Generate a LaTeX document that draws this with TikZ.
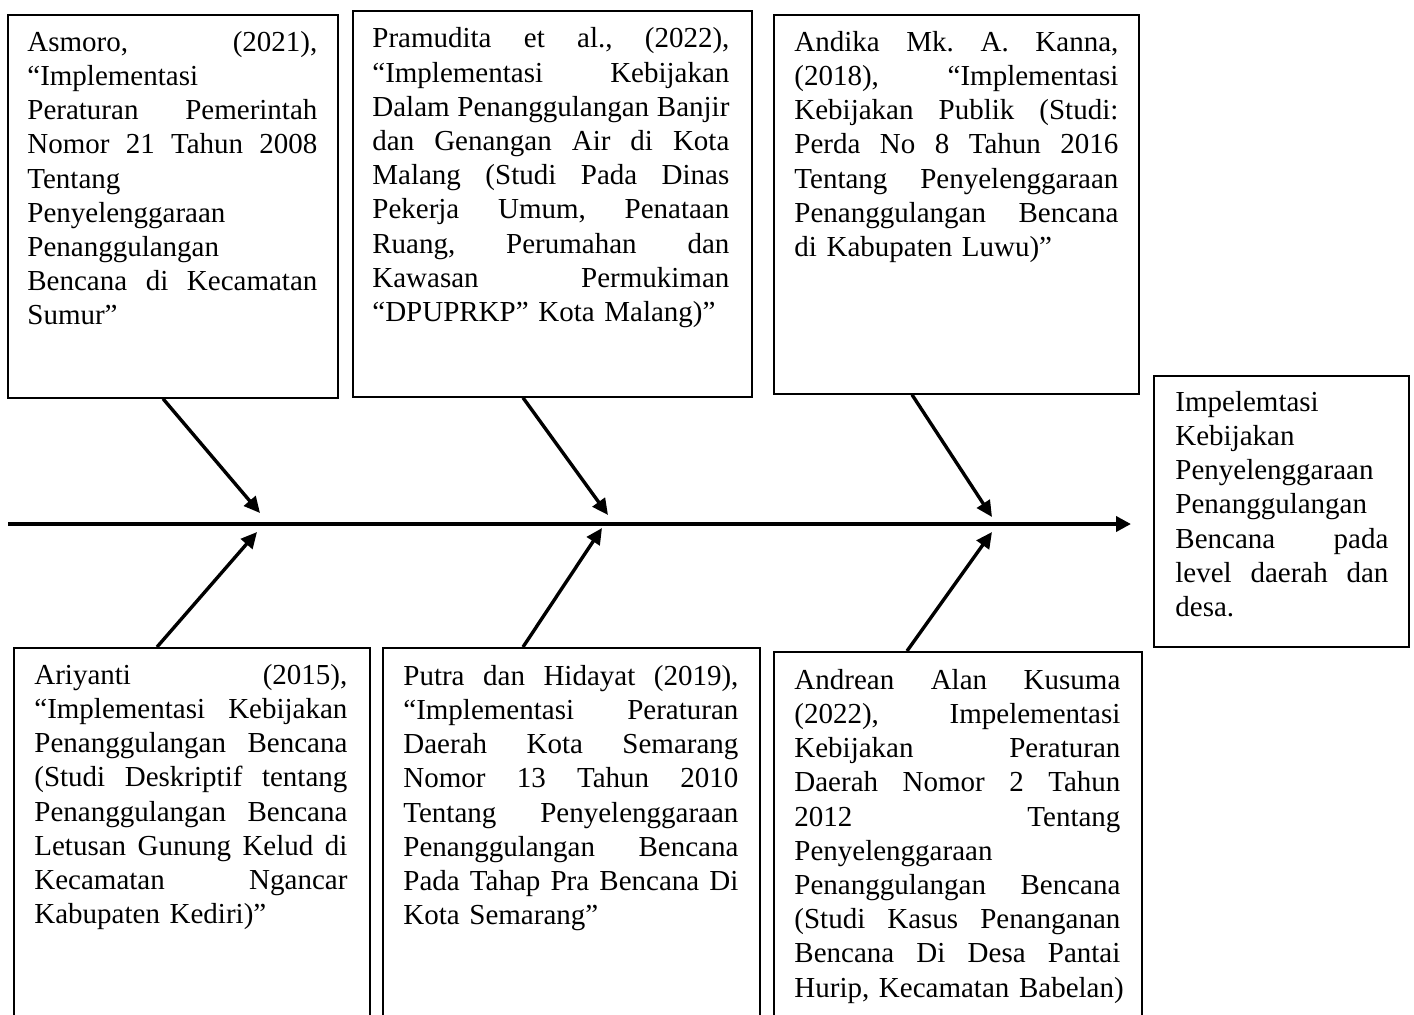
\documentclass[tikz,border=0pt]{standalone}
\usepackage{fontspec}
\setmainfont{Liberation Serif}
\usetikzlibrary{arrows.meta}
\newcommand\jline[1]{\hbox to\hsize{\spaceskip=\fontdimen2\font plus 1fil\xspaceskip=\spaceskip\strut#1}}
\newcommand\lline[1]{\hbox to\hsize{\strut#1\hfil}}
\hbadness=10000
\hfuzz=3pt
\frenchspacing
\begin{document}
\begin{tikzpicture}[x=0.5pt,y=-0.5pt,
  box/.style={draw, line width=0.85pt, inner sep=0pt, anchor=north west},
  txt/.style={inner sep=0pt, anchor=north west, font=\fontsize{14.5}{17.1}\selectfont\frenchspacing},
  arr/.style={line width=1.7pt, -{Triangle[length=8pt,width=7.5pt]}},
  mainarr/.style={line width=2.1pt, -{Triangle[length=7.5pt,width=7.5pt]}}]
\useasboundingbox (0,0) rectangle (1414,1014);
\clip (0,0) rectangle (1414,1014);

% boxes
\node[box, minimum width=165pt,   minimum height=191.5pt] (b1) at (7,14) {};
\node[box, minimum width=199.5pt, minimum height=193pt]   (b2) at (352,10) {};
\node[box, minimum width=182.5pt, minimum height=189.5pt] (b3) at (773,14) {};
\node[box, minimum width=127.5pt, minimum height=135.5pt] (R)  at (1153,375) {};
\node[box, minimum width=178pt,   minimum height=191.5pt] (b4) at (13,647) {};
\node[box, minimum width=188.5pt, minimum height=191.5pt] (b5) at (382,647) {};
\node[box, minimum width=184pt,   minimum height=189.5pt] (b6) at (773,651) {};

% texts
\node[txt, text width=145pt] (x1) at (27,27) {%
\jline{Asmoro, (2021),}
\lline{“Implementasi}
\jline{Peraturan Pemerintah}
\jline{Nomor 21 Tahun 2008}
\lline{Tentang}
\lline{Penyelenggaraan}
\lline{Penanggulangan}
\jline{Bencana di Kecamatan}
\lline{Sumur”}};

\node[txt, text width=178.5pt] (x2) at (372,23.5) {%
\jline{Pramudita et al., (2022),}
\jline{“Implementasi Kebijakan}
\jline{Dalam Penanggulangan Banjir}
\jline{dan Genangan Air di Kota}
\jline{Malang (Studi Pada Dinas}
\jline{Pekerja Umum, Penataan}
\jline{Ruang, Perumahan dan}
\jline{Kawasan Permukiman}
\lline{“DPUPRKP” Kota Malang)”}};

\node[txt, text width=162pt] (x3) at (794,27) {%
\jline{Andika Mk. A. Kanna,}
\jline{(2018), “Implementasi}
\jline{Kebijakan Publik (Studi:}
\jline{Perda No 8 Tahun 2016}
\jline{Tentang Penyelenggaraan}
\jline{Penanggulangan Bencana}
\lline{di Kabupaten Luwu)”}};

\node[txt, text width=106.5pt] (xR) at (1175,387) {%
\lline{Impelemtasi}
\lline{Kebijakan}
\lline{Penyelenggaraan}
\lline{Penanggulangan}
\jline{Bencana pada}
\jline{level daerah dan}
\lline{desa.}};

\node[txt, text width=156.5pt] (x4) at (34,660) {%
\jline{Ariyanti (2015),}
\jline{“Implementasi Kebijakan}
\jline{Penanggulangan Bencana}
\jline{(Studi Deskriptif tentang}
\jline{Penanggulangan Bencana}
\jline{Letusan Gunung Kelud di}
\jline{Kecamatan Ngancar}
\lline{Kabupaten Kediri)”}};

\node[txt, text width=167.5pt] (x5) at (403,661) {%
\jline{Putra dan Hidayat (2019),}
\jline{“Implementasi Peraturan}
\jline{Daerah Kota Semarang}
\jline{Nomor 13 Tahun 2010}
\jline{Tentang Penyelenggaraan}
\jline{Penanggulangan Bencana}
\jline{Pada Tahap Pra Bencana Di}
\lline{Kota Semarang”}};

\node[txt, text width=163pt] (x6) at (794,665) {%
\jline{Andrean Alan Kusuma}
\jline{(2022), Impelementasi}
\jline{Kebijakan Peraturan}
\jline{Daerah Nomor 2 Tahun}
\jline{2012 Tentang}
\lline{Penyelenggaraan}
\jline{Penanggulangan Bencana}
\jline{(Studi Kasus Penanganan}
\jline{Bencana Di Desa Pantai}
\lline{Hurip, Kecamatan Babelan)}};

% spine
\coordinate (ms) at (8,524);
\coordinate (me) at (1131,524);
\draw[mainarr] (ms) -- (me);

% arrow tips
\coordinate (t1) at (260,513);
\coordinate (t2) at (608,515);
\coordinate (t3) at (992,517);
\coordinate (t4) at (257,532);
\coordinate (t5) at (602,528);
\coordinate (t6) at (992,532);

\draw[arr] ([xshift=78pt]b1.south west) -- (t1);
\draw[arr] ([xshift=85.5pt]b2.south west) -- (t2);
\draw[arr] ([xshift=69.5pt]b3.south west) -- (t3);
\draw[arr] ([xshift=72pt]b4.north west) -- (t4);
\draw[arr] ([xshift=70.5pt]b5.north west) -- (t5);
\draw[arr] ([xshift=67pt]b6.north west) -- (t6);
\end{tikzpicture}
\end{document}
